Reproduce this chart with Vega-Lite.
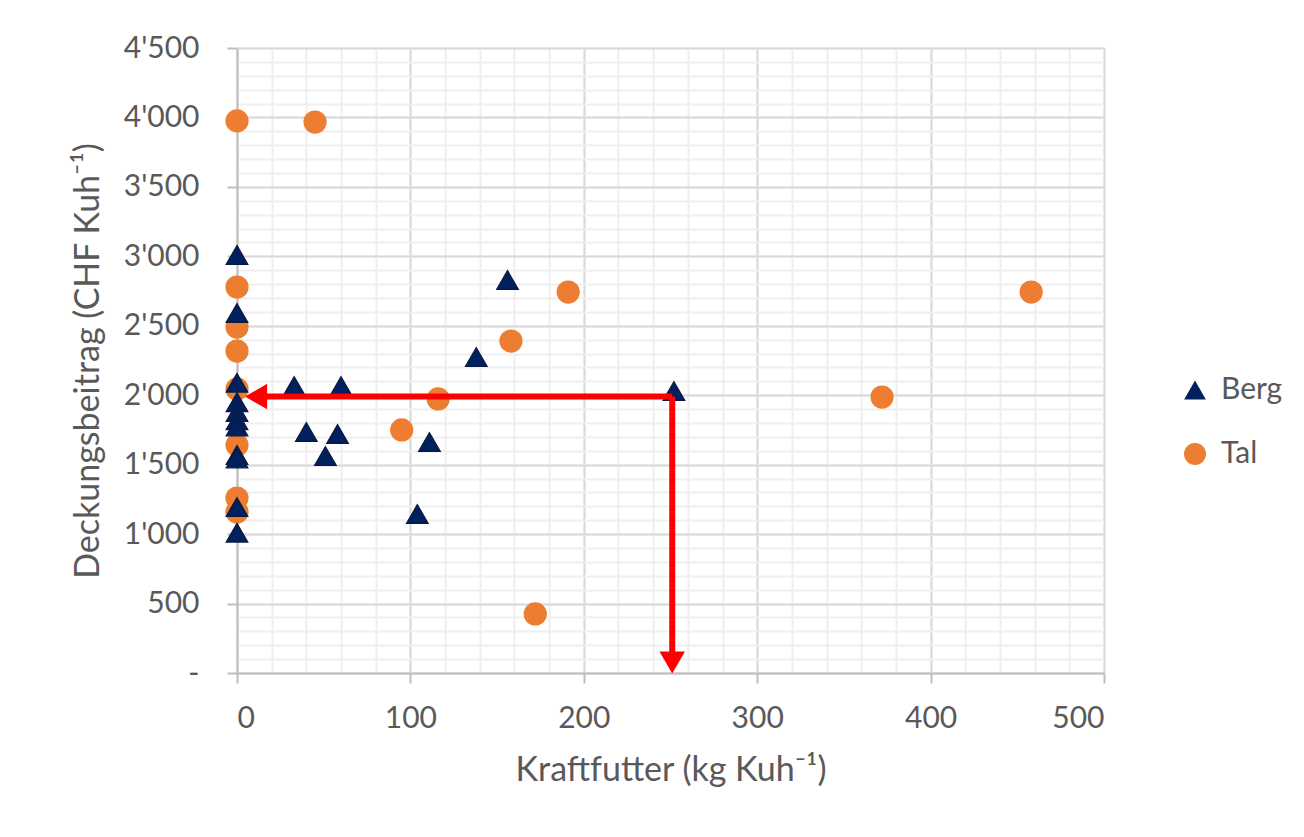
{
  "$schema": "https://vega.github.io/schema/vega-lite/v6.json",
  "width": 867,
  "height": 625,
  "autosize": {"type": "none"},
  "padding": {"left": 237, "top": 48, "right": 200, "bottom": 164},
  "background": "white",
  "config": {
    "view": {"stroke": null},
    "font": "Lato",
    "axis": {"labelFont": "Lato", "titleFont": "Lato", "labelColor": "#595959", "titleColor": "#595959", "titleFontWeight": "normal"}
  },
  "datasets": {
    "pts": [
      {"futter": 0, "db": 3975, "zone": "Tal"},
      {"futter": 45, "db": 3967, "zone": "Tal"},
      {"futter": 0, "db": 2779, "zone": "Tal"},
      {"futter": 0, "db": 2491, "zone": "Tal"},
      {"futter": 0, "db": 2318, "zone": "Tal"},
      {"futter": 0, "db": 2045, "zone": "Tal"},
      {"futter": 0, "db": 1641, "zone": "Tal"},
      {"futter": 0, "db": 1260, "zone": "Tal"},
      {"futter": 0, "db": 1159, "zone": "Tal"},
      {"futter": 95, "db": 1750, "zone": "Tal"},
      {"futter": 116, "db": 1973, "zone": "Tal"},
      {"futter": 158, "db": 2390, "zone": "Tal"},
      {"futter": 191, "db": 2743, "zone": "Tal"},
      {"futter": 172, "db": 425, "zone": "Tal"},
      {"futter": 372, "db": 1987, "zone": "Tal"},
      {"futter": 458, "db": 2743, "zone": "Tal"},
      {"futter": 0, "db": 3010, "zone": "Berg"},
      {"futter": 0, "db": 2592, "zone": "Berg"},
      {"futter": 0, "db": 2090, "zone": "Berg"},
      {"futter": 0, "db": 1950, "zone": "Berg"},
      {"futter": 0, "db": 1880, "zone": "Berg"},
      {"futter": 0, "db": 1820, "zone": "Berg"},
      {"futter": 0, "db": 1775, "zone": "Berg"},
      {"futter": 0, "db": 1570, "zone": "Berg"},
      {"futter": 0, "db": 1545, "zone": "Berg"},
      {"futter": 0, "db": 1195, "zone": "Berg"},
      {"futter": 0, "db": 1010, "zone": "Berg"},
      {"futter": 33, "db": 2066, "zone": "Berg"},
      {"futter": 60, "db": 2066, "zone": "Berg"},
      {"futter": 40, "db": 1735, "zone": "Berg"},
      {"futter": 58, "db": 1721, "zone": "Berg"},
      {"futter": 51, "db": 1562, "zone": "Berg"},
      {"futter": 111, "db": 1663, "zone": "Berg"},
      {"futter": 104, "db": 1145, "zone": "Berg"},
      {"futter": 138, "db": 2275, "zone": "Berg"},
      {"futter": 156, "db": 2830, "zone": "Berg"},
      {"futter": 252, "db": 2030, "zone": "Berg"}
    ],
    "arrows": [
      {"x": 251, "y": 1990, "x2": 14, "y2": 1990},
      {"x": 251, "y": 1990, "x2": 251, "y2": 80}
    ],
    "heads": [
      {"x": 11, "y": 1990, "head": "triangle-left"},
      {"x": 251, "y": 76, "head": "triangle-down"}
    ]
  },
  "resolve": {"axis": {"x": "independent", "y": "independent"}},
  "layer": [
    {
      "data": {"name": "pts"},
      "mark": {"type": "point", "opacity": 0},
      "encoding": {
        "x": {"field": "futter", "type": "quantitative", "scale": {"domain": [0, 500], "nice": false},
          "axis": {"orient": "top", "values": [0,20,40,60,80,100,120,140,160,180,200,220,240,260,280,300,320,340,360,380,400,420,440,460,480,500], "grid": true, "gridColor": "#efefef", "gridWidth": 2, "labels": false, "ticks": false, "domain": false, "title": null}},
        "y": {"field": "db", "type": "quantitative", "scale": {"domain": [0, 4500], "nice": false},
          "axis": {"orient": "right", "values": [0,100,200,300,400,500,600,700,800,900,1000,1100,1200,1300,1400,1500,1600,1700,1800,1900,2000,2100,2200,2300,2400,2500,2600,2700,2800,2900,3000,3100,3200,3300,3400,3500,3600,3700,3800,3900,4000,4100,4200,4300,4400,4500], "grid": true, "gridColor": "#efefef", "gridWidth": 2, "labels": false, "ticks": false, "domain": false, "title": null}}
      }
    },
    {
      "data": {"name": "pts"},
      "mark": {"type": "point", "filled": true, "opacity": 1, "strokeWidth": 1.2},
      "encoding": {
        "x": {"field": "futter", "type": "quantitative", "scale": {"domain": [0, 500], "nice": false},
          "axis": {"orient": "bottom", "values": [0,100,200,300,400,500], "grid": true, "gridColor": "#d9d9d9", "gridWidth": 2, "domainColor": "#bfbfbf", "domainWidth": 2, "tickColor": "#bfbfbf", "tickWidth": 2, "tickSize": 10, "labelFontSize": 30, "labelPadding": 20, "title": "Kraftfutter (kg Kuh⁻¹)", "titleFontSize": 34, "titlePadding": 20}},
        "y": {"field": "db", "type": "quantitative", "scale": {"domain": [0, 4500], "nice": false},
          "axis": {"orient": "left", "values": [0,500,1000,1500,2000,2500,3000,3500,4000,4500], "grid": true, "gridColor": "#d9d9d9", "gridWidth": 2, "domainColor": "#bfbfbf", "domainWidth": 2, "tickColor": "#bfbfbf", "tickWidth": 2, "tickSize": 10, "labelFontSize": 30, "labelPadding": 28,
            "labelExpr": "datum.value == 0 ? '-' : replace(format(datum.value, ','), ',', \"'\")",
            "encode": {"labels": {"update": {"dx": {"signal": "datum.value == 0 ? -17 : 0"}}}},
            "title": "Deckungsbeitrag (CHF Kuh⁻¹)", "titleFontSize": 34, "titlePadding": 18}},
        "color": {"field": "zone", "type": "nominal", "scale": {"domain": ["Berg", "Tal"], "range": ["#002060", "#ED7D31"]},
          "legend": {"title": null, "orient": "none", "legendX": 943, "legendY": 327, "labelFontSize": 30, "labelColor": "#595959", "labelFont": "Lato", "symbolSize": 480, "rowPadding": 34, "labelOffset": 11, "symbolStrokeWidth": 0}},
        "shape": {"field": "zone", "type": "nominal", "scale": {"domain": ["Berg", "Tal"], "range": ["triangle-up", "circle"]}},
        "size": {"field": "zone", "type": "nominal", "scale": {"domain": ["Berg", "Tal"], "range": [470, 484]}, "legend": null},
        "stroke": {"field": "zone", "type": "nominal", "scale": {"domain": ["Berg", "Tal"], "range": ["#0b1a3b", "#ED7D31"]}, "legend": null}
      }
    },
    {
      "data": {"name": "arrows"},
      "mark": {"type": "rule", "color": "#ff0000", "strokeWidth": 6},
      "encoding": {
        "x": {"field": "x", "type": "quantitative", "axis": null},
        "x2": {"field": "x2"},
        "y": {"field": "y", "type": "quantitative", "axis": null},
        "y2": {"field": "y2"}
      }
    },
    {
      "data": {"name": "heads"},
      "mark": {"type": "point", "filled": true, "color": "#ff0000", "opacity": 1, "size": 650},
      "encoding": {
        "x": {"field": "x", "type": "quantitative", "axis": null},
        "y": {"field": "y", "type": "quantitative", "axis": null},
        "shape": {"field": "head", "type": "nominal", "scale": null, "legend": null}
      }
    }
  ]
}
